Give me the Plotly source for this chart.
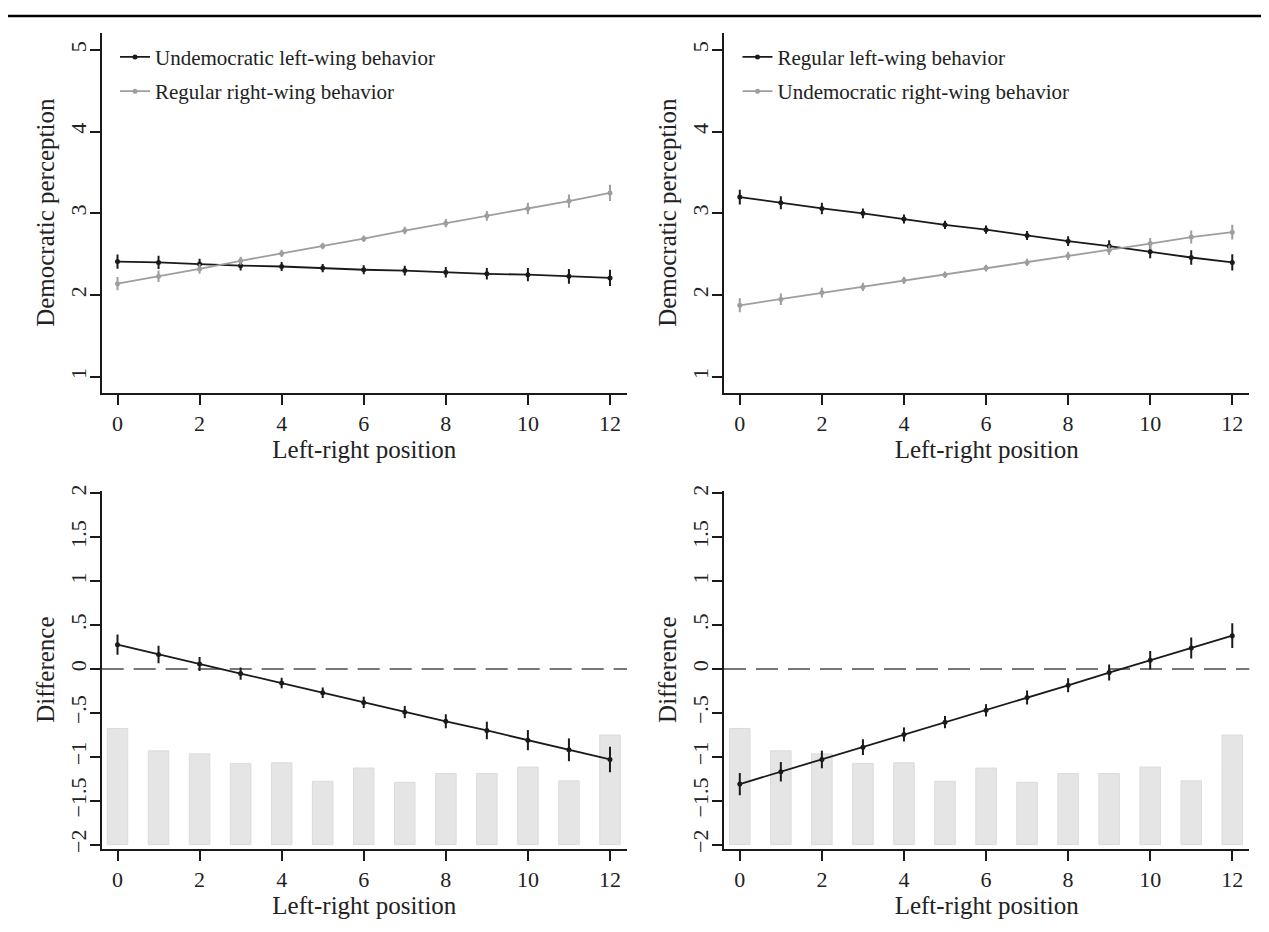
import plotly.graph_objects as go

# ---------------- data ----------------
positions = list(range(13))

# Top-left panel
tl_undem_left = [2.41, 2.40, 2.38, 2.36, 2.35, 2.33, 2.31, 2.30, 2.28, 2.26, 2.25, 2.23, 2.21]
tl_undem_left_err = [0.087, 0.08, 0.065, 0.06, 0.055, 0.05, 0.055, 0.06, 0.065, 0.07, 0.08, 0.09, 0.10]
tl_reg_right = [2.14, 2.23, 2.32, 2.42, 2.51, 2.60, 2.69, 2.79, 2.88, 2.97, 3.06, 3.15, 3.25]
tl_reg_right_err = [0.08, 0.07, 0.06, 0.05, 0.045, 0.04, 0.04, 0.045, 0.05, 0.06, 0.07, 0.08, 0.10]

# Top-right panel
tr_reg_left = [3.20, 3.13, 3.06, 3.00, 2.93, 2.86, 2.80, 2.73, 2.66, 2.60, 2.53, 2.46, 2.40]
tr_reg_left_err = [0.09, 0.08, 0.07, 0.06, 0.055, 0.05, 0.05, 0.055, 0.06, 0.07, 0.08, 0.09, 0.10]
tr_undem_right = [1.875, 1.95, 2.03, 2.10, 2.18, 2.25, 2.33, 2.40, 2.48, 2.55, 2.63, 2.71, 2.77]
tr_undem_right_err = [0.085, 0.07, 0.06, 0.05, 0.045, 0.04, 0.04, 0.045, 0.05, 0.06, 0.07, 0.08, 0.09]

# Bottom-left panel (difference)
bl_diff = [0.277, 0.165, 0.056, -0.052, -0.16, -0.27, -0.38, -0.49, -0.595, -0.70, -0.81, -0.92, -1.03]
bl_diff_err = [0.115, 0.10, 0.08, 0.07, 0.06, 0.06, 0.065, 0.07, 0.08, 0.10, 0.115, 0.13, 0.145]

# Bottom-right panel (difference)
br_diff = [-1.31, -1.17, -1.03, -0.89, -0.745, -0.605, -0.47, -0.325, -0.185, -0.04, 0.10, 0.24, 0.38]
br_diff_err = [0.127, 0.11, 0.10, 0.09, 0.08, 0.07, 0.07, 0.08, 0.08, 0.09, 0.105, 0.12, 0.14]

# Distribution bars (top of each bar on the difference scale, base at -2)
bar_tops = [-0.677, -0.932, -0.966, -1.075, -1.068, -1.278, -1.128, -1.29, -1.19, -1.19, -1.117, -1.274, -0.752]
bar_base = -2

x_tickvals = [0, 2, 4, 6, 8, 10, 12]
top_tickvals = [1, 2, 3, 4, 5]
top_ticktext = ["1", "2", "3", "4", "5"]
diff_tickvals = [-2, -1.5, -1, -0.5, 0, 0.5, 1, 1.5, 2]
diff_ticktext = ["\u22122", "\u22121.5", "\u22121", "\u2212.5", "0", ".5", "1", "1.5", "2"]

# ---------------- styling ----------------
FONT = "Liberation Serif"
BLACK = "#1a1a1a"
GRAY = "#9e9e9e"
TXT = "#222222"

PAGE_W, PAGE_H = 1269, 932
OFF = 8  # default page body margin
W, H = PAGE_W - OFF, PAGE_H - OFF


def px_x(p):
    return (p - OFF) / W


def px_y(p):
    return 1 - (p - OFF) / H


xdom_l = [px_x(101.7), px_x(627.0)]
xdom_r = [px_x(724.0), px_x(1249.3)]
ydom_t = [px_y(390.7), px_y(27.0)]
ydom_b = [px_y(851.7), px_y(490.0)]

fig = go.Figure()


def series(x, y, err, color, name, xa, ya, legend="legend", show=False, lw=1.8, ew=2):
    return go.Scatter(
        x=x, y=y, mode="lines+markers", name=name,
        line=dict(color=color, width=lw),
        marker=dict(color=color, size=5),
        error_y=dict(type="data", array=err, visible=True, color=color,
                     thickness=ew, width=0),
        xaxis=xa, yaxis=ya, showlegend=show, legend=legend,
        legendgroup=name + xa,
    )


# Top-left
fig.add_trace(series(positions, tl_undem_left, tl_undem_left_err, BLACK,
                     "Undemocratic left-wing behavior", "x", "y", "legend", True))
fig.add_trace(series(positions, tl_reg_right, tl_reg_right_err, GRAY,
                     "Regular right-wing behavior", "x", "y", "legend", True))
# Top-right
fig.add_trace(series(positions, tr_reg_left, tr_reg_left_err, BLACK,
                     "Regular left-wing behavior", "x2", "y2", "legend2", True))
fig.add_trace(series(positions, tr_undem_right, tr_undem_right_err, GRAY,
                     "Undemocratic right-wing behavior", "x2", "y2", "legend2", True))
# Bottom-left
fig.add_trace(series(positions, bl_diff, bl_diff_err, BLACK, "Difference", "x3", "y3"))
# Bottom-right
fig.add_trace(series(positions, br_diff, br_diff_err, BLACK, "Difference", "x4", "y4"))

bar_heights = [t - bar_base for t in bar_tops]
for xa, ya in (("x3", "y3"), ("x4", "y4")):
    fig.add_trace(go.Bar(
        x=positions, y=bar_heights, base=bar_base, width=0.5,
        marker=dict(color="rgb(170,170,170)", line=dict(color="rgb(140,140,140)", width=1)),
        opacity=0.3, xaxis=xa, yaxis=ya, showlegend=False, hoverinfo="skip",
    ))

axis_common = dict(
    showline=True, linecolor=BLACK, linewidth=2, mirror=False,
    ticks="outside", ticklen=10, tickwidth=2, tickcolor=BLACK,
    showgrid=False, zeroline=False,
    tickfont=dict(family=FONT, size=22, color=TXT),
    title_font=dict(family=FONT, size=25, color=TXT),
)

xr = [-0.385, 12.415]
for name, dom, anchor in (("xaxis", xdom_l, "y"), ("xaxis2", xdom_r, "y2"),
                          ("xaxis3", xdom_l, "y3"), ("xaxis4", xdom_r, "y4")):
    fig.update_layout(**{name: dict(axis_common, domain=dom, anchor=anchor, range=xr,
                                    tickvals=x_tickvals, ticklabelstandoff=0,
                                    title=dict(text="Left-right position", standoff=0))})

for name, anchor in (("yaxis", "x"), ("yaxis2", "x2")):
    fig.update_layout(**{name: dict(axis_common, domain=ydom_t, anchor=anchor, range=[0.807, 5.21],
                                    tickvals=top_tickvals, ticktext=top_ticktext, tickangle=-90,
                                    ticklabelstandoff=-5,
                                    title=dict(text="Democratic perception", standoff=4))})
for name, anchor in (("yaxis3", "x3"), ("yaxis4", "x4")):
    fig.update_layout(**{name: dict(axis_common, domain=ydom_b, anchor=anchor, range=[-2.045, 2.03],
                                    tickvals=diff_tickvals, ticktext=diff_ticktext, tickangle=-90,
                                    ticklabelstandoff=-5,
                                    title=dict(text="Difference", standoff=4))})

# zero reference lines
for xref, yref in (("x3 domain", "y3"), ("x4 domain", "y4")):
    fig.add_shape(type="line", xref=xref, yref=yref, x0=0, x1=1, y0=0, y1=0,
                  line=dict(color="#777777", width=1.8, dash="22px,10px"), layer="below")

# rule at top of figure
fig.add_shape(type="line", xref="paper", yref="paper", x0=0, x1=1,
              y0=px_y(10.0), y1=px_y(10.0), line=dict(color="black", width=2.5))

legend_common = dict(
    font=dict(family=FONT, size=21, color=TXT), bgcolor="rgba(0,0,0,0)",
    borderwidth=0, xanchor="left", yanchor="top", tracegroupgap=4,
    itemclick=False, traceorder="grouped",
)
fig.update_layout(
    legend=dict(legend_common, x=px_x(121 - 6), y=px_y(31)),
    legend2=dict(legend_common, x=px_x(743.5 - 6), y=px_y(31)),
)

fig.update_layout(
    width=W, height=H, margin=dict(l=0, r=0, t=0, b=0),
    paper_bgcolor="white", plot_bgcolor="white",
    barmode="overlay", font=dict(family=FONT, color=TXT),
)

fig.write_html("out.html")
